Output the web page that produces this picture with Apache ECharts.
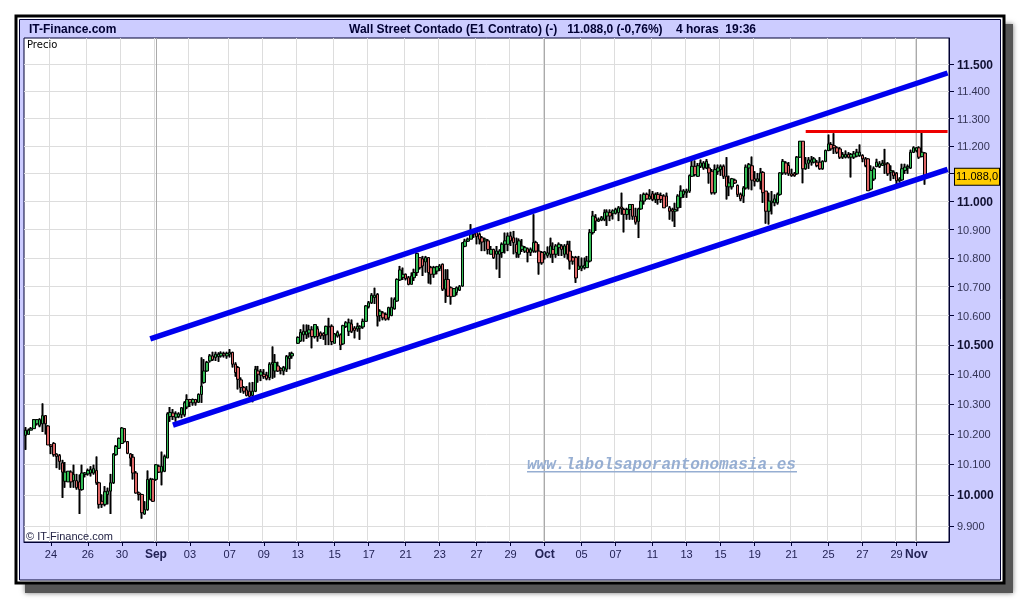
<!DOCTYPE html>
<html>
<head>
<meta charset="utf-8">
<style>html,body{margin:0;padding:0;background:#fff}#c{width:1020px;height:600px}</style>
<script src="https://cdn.jsdelivr.net/npm/echarts@6/dist/echarts.min.js"></script>
</head>
<body>
<div id="c"></div>
<script>
// Candles: [open, close, low, high]
const barsAugust = [
[10196,10213,10148,10223],[10199,10213,10199,10218],[10213,10218,10213,10223],[10218,10248,10218,10250],[10234,10248,10229,10250],[10229,10248,10223,10252],[10234,10261,10207,10302],[10261,10234,10199,10263],[10227,10164,10164,10229],[10164,10159,10134,10166],
[10169,10132,10126,10173],[10134,10126,10088,10136],[10129,10110,10083,10134],[10105,10075,9991,10115],[10045,10075,10024,10108],[10043,10078,10043,10078],[10075,10043,10024,10080],[10047,10067,10024,10099],[10047,10024,10018,10069],[10043,10018,9939,10067],
[10018,10072,10015,10099],[10067,10072,10058,10075],[10069,10080,10064,10086],[10072,10083,10061,10094],[10072,10086,10067,10099],[10080,10040,10034,10126],[10040,9970,9957,10043],[9980,9970,9959,10002],[9970,10011,9964,10029],[10002,10013,9970,10024],
[10013,10040,9939,10069],[10040,10134,10037,10137],[10132,10159,10129,10164],[10153,10186,10151,10188],[10169,10220,10169,10223],[10218,10175,10173,10220],[10175,10137,10134,10177],[10134,10121,10094,10137],[10124,10072,10051,10134],[10072,10007,10005,10078],
[10007,10002,9983,10011],[10002,9943,9924,10004],[9939,9953,9937,9980],[9953,10051,9950,10080],[9986,10051,9983,10056],[10051,9980,9978,10054]
];
const barsSeptember = [
[10051,10099,10047,10101],[10094,10075,10072,10099],[10075,10094,10032,10142],[10078,10126,10075,10132],[10121,10267,10121,10272],
[10258,10272,10241,10290],[10270,10258,10247,10283],[10256,10267,10241,10275],[10258,10267,10253,10272],[10264,10287,10253,10290],[10264,10304,10258,10309],[10290,10315,10283,10332],[10315,10306,10290,10317],[10304,10315,10295,10318],[10315,10304,10295,10317],
[10306,10332,10304,10335],[10332,10360,10304,10457],[10372,10411,10369,10451],[10411,10440,10409,10445],[10445,10462,10440,10468],[10462,10449,10445,10476],[10457,10468,10445,10476],[10460,10468,10442,10474],[10462,10471,10457,10477],[10470,10465,10457,10476],
[10462,10470,10453,10476],[10468,10474,10457,10485],[10474,10434,10423,10476],[10434,10406,10392,10440],[10423,10383,10349,10428],[10381,10355,10338,10389],[10355,10343,10335,10360],[10347,10329,10326,10360],[10343,10326,10324,10372],[10329,10343,10306,10374],
[10343,10417,10340,10428],[10411,10400,10372,10428],[10397,10408,10377,10417],[10400,10392,10385,10417],[10397,10385,10380,10408],[10389,10434,10380,10440],[10434,10440,10385,10494],[10411,10440,10389,10468],[10428,10411,10408,10442],[10419,10414,10400,10423],
[10411,10423,10397,10428],[10417,10460,10408,10465],[10453,10462,10417,10474],[10462,10470,10453,10476],'-',
[10505,10525,10503,10528],[10513,10542,10510,10553],[10534,10546,10511,10569],[10534,10546,10520,10569],[10540,10551,10525,10568],[10551,10528,10488,10563],[10528,10569,10522,10570],[10554,10528,10511,10563],[10540,10530,10520,10545],[10538,10531,10517,10542],
[10534,10563,10499,10565],[10563,10561,10499,10592],[10563,10511,10499,10569],[10505,10537,10505,10540],[10530,10542,10525,10548],[10534,10499,10482,10538],[10503,10565,10500,10568],[10563,10575,10558,10580],[10546,10575,10530,10589],[10571,10546,10540,10586],
[10557,10549,10522,10563],[10554,10563,10545,10575],[10557,10563,10517,10566],[10561,10580,10555,10589],[10580,10633,10580,10636],[10630,10644,10625,10650],[10644,10670,10640,10677],[10662,10670,10640,10696],[10673,10598,10563,10677],[10600,10615,10580,10621],
[10609,10592,10584,10615],[10603,10588,10583,10610],[10592,10627,10584,10630],[10600,10629,10598,10662],[10623,10656,10621,10662],[10650,10725,10648,10728],[10723,10758,10720,10772],[10732,10743,10723,10766],[10743,10728,10722,10745],[10731,10708,10705,10737],
[10708,10737,10708,10749],[10731,10749,10720,10762],[10749,10816,10737,10818],[10801,10766,10760,10801],[10797,10772,10737,10807],[10786,10801,10749,10807],[10801,10749,10711,10803],[10766,10743,10708,10772],[10743,10766,10731,10772],[10754,10769,10743,10772],
[10763,10772,10754,10778],[10778,10691,10685,10780],[10691,10725,10644,10760],[10725,10667,10665,10760],[10696,10665,10638,10700],[10667,10693,10665,10695],[10680,10696,10670,10700],[10688,10700,10685,10705],[10702,10853,10700,10855],[10841,10859,10838,10867],
[10859,10866,10856,10871],[10866,10895,10866,10919],[10895,10883,10871,10901],[10889,10875,10848,10892],[10883,10866,10848,10889],[10871,10856,10824,10877],[10860,10866,10824,10871],[10860,10830,10813,10866],[10813,10830,10813,10842],[10830,10801,10797,10832],
[10813,10824,10760,10842],[10813,10824,10730,10830],[10819,10848,10801,10854],[10848,10860,10816,10889],[10848,10877,10824,10889],[10877,10860,10842,10892],[10871,10854,10813,10895],[10848,10819,10801,10871],[10813,10860,10801,10868],[10830,10842,10821,10866],
[10824,10836,10818,10842],[10832,10819,10785,10836],[10819,10830,10807,10836],[10824,10854,10819,10954],[10854,10824,10819,10860]
];
const barsOctober = [
[10824,10783,10742,10848],[10819,10783,10777,10824],[10813,10821,10795,10824],[10809,10818,10801,10840],[10813,10842,10801,10871],[10830,10813,10783,10854],[10813,10842,10801,10848],[10836,10848,10807,10854],[10842,10830,10807,10848],[10813,10842,10801,10848],
[10848,10813,10795,10860],[10824,10789,10760,10860],[10801,10789,10777,10807],[10801,10730,10713,10807],[10760,10772,10760,10807],[10764,10772,10754,10801],[10766,10774,10760,10801],[10766,10789,10766,10807],[10789,10889,10785,10901],[10889,10948,10883,10966],
[10942,10930,10895,10954],[10930,10936,10927,10942],[10934,10942,10930,10948],[10936,10960,10930,10971],[10948,10962,10913,10971],[10960,10948,10930,10971],[10958,10966,10936,10971],[10958,10971,10954,10977],[10960,10977,10930,10983],[10980,10974,10953,11031],
[10971,10954,10890,10977],[10953,10971,10935,10977],[10971,10989,10935,10989],[10989,10947,10935,10989],[10947,10926,10918,10977],[10929,10973,10870,10977],[10973,11001,10971,11025],[11001,11025,10989,11031],[11025,11009,11007,11031],[11009,11019,11007,11043],
[11027,11007,11001,11037],[11007,11025,10995,11031],[11025,11007,10989,11033],[11021,11007,10995,11031],[11019,10977,10977,11025],[11019,10983,10983,11031],[10977,10965,10935,10983],[10971,10965,10929,10977],[10965,10971,10909,10995],[10977,11019,10965,11025],
[11013,11037,10977,11057],[11025,11037,11013,11043],[11031,11037,11013,11045],[11037,11092,11031,11096],[11090,11126,11088,11150],[11126,11096,11090,11147],[11090,11128,11088,11138],[11126,11138,11120,11150],[11120,11138,11114,11144],[11120,11144,11116,11152],
[11120,11102,11064,11135],[11108,11031,11025,11116],[11031,11114,11025,11132],[11108,11120,11096,11132],[11114,11126,11092,11132],[11126,11090,11081,11132],[11090,11054,11007,11159],[11052,11066,11019,11092],[11052,11081,11043,11084],[11076,11066,11063,11081],
[11057,11025,11016,11060],[11025,11009,11001,11031],[11019,11048,10995,11054],[11048,11123,11043,11132],[11120,11132,11043,11138],[11128,11076,11040,11161],[11081,11072,11054,11108],[11072,11081,11069,11102],[11072,11102,11043,11120],[11104,11031,10995,11108],
[11037,10965,10921,11037],[10965,11001,10918,11031],[10995,11001,10954,11037],[10995,11009,10983,11025],[10995,11025,10989,11031],[11025,11102,11021,11104],[11102,11144,11096,11152],[11138,11102,11096,11144],
[11129,11099,11092,11141],[11099,11092,11089,11117],[11099,11092,11089,11105],[11099,11159,11096,11163],[11159,11217,11157,11217],[11217,11117,11065,11217],[11117,11135,11114,11159],[11137,11149,11117,11159],[11141,11149,11129,11163],[11141,11153,11137,11159],
[11141,11129,11123,11149],[11141,11117,11114,11159],[11117,11144,11114,11147],[11144,11183,11141,11186],[11183,11207,11181,11241],[11205,11189,11183,11213],[11201,11193,11171,11246],[11193,11177,11171,11198],[11189,11159,11153,11195],[11159,11169,11153,11177],
[11159,11169,11155,11183],[11169,11159,11155,11177],[11159,11169,11086,11174],[11159,11171,11153,11181],[11163,11177,11159,11189],[11165,11177,11161,11205],[11165,11153,11141,11169],[11153,11129,11123,11159],[11153,11038,11038,11155],[11044,11111,11040,11129],
[11080,11117,11074,11125],[11125,11141,11123,11153],[11125,11135,11120,11144],[11129,11137,11129,11149]
];
const barsNovember = [
[11137,11132,11099,11189],[11135,11099,11092,11141],[11105,11111,11074,11129],[11105,11092,11080,11111],[11101,11074,11062,11105],[11074,11080,11068,11086],[11077,11117,11074,11135],[11111,11123,11099,11135],[11120,11125,11099,11132],[11120,11177,11117,11186],
[11177,11193,11174,11198],[11183,11193,11177,11195],[11193,11159,11153,11198],[11161,11177,11159,11250],[11174,11088,11060,11177]
];
const slotCount = 326;
const tickSlots  = [9,22,34,46,58,72,84,96,109,121,134,146,159,171,183,196,208,221,233,245,257,270,283,295,307,314];
const tickLabels = ['24','26','30','Sep','03','07','09','13','15','17','21','23','27','29','Oct','05','07','11','13','15','19','21','25','27','29','Nov'];
const monthLabels = ['Sep','Oct','Nov'];
const priceTicks = [9900,10000,10100,10200,10300,10400,10500,10600,10700,10800,10900,11000,11100,11200,11300,11400,11500];
const upperChannel = [[44,10520],[325,11468]];
const lowerChannel = [[52,10230],[325,11115]];
const resistance = [[275,11252],[325,11252]];
const lastPrice = 11088;

const candles = [...barsAugust, ...barsSeptember, ...barsOctober, ...barsNovember];
const categories = Array.from({length: slotCount}, (_, i) => String(i));
const isTick = (i) => tickSlots.includes(i);
const fmtPrice = (v) => { const s = String(Math.round(v)); return s.length > 3 ? s.slice(0, -3) + '.' + s.slice(-3) : s; };
const navy = '#000033';
const FONT = '"Liberation Sans", Arial, sans-serif';

const chart = echarts.init(document.getElementById('c'), null, {renderer: 'canvas'});
chart.setOption({
  animation: false,
  backgroundColor: '#fff',
  graphic: [
    {type:'rect', z:-30, shape:{x:25,y:24,width:988,height:569}, style:{fill:'#555', shadowBlur:5, shadowColor:'#777'}},
    {type:'rect', z:-20, shape:{x:16,y:16,width:988,height:567}, style:{fill:'#fff', stroke:'#000', lineWidth:3}},
    {type:'rect', z:-10, shape:{x:19.5,y:19.5,width:981,height:560.5}, style:{fill:'#ccccff', stroke:navy, lineWidth:1}},
    {type:'text', z:10, x:29, y:24, style:{text:'IT-Finance.com', font:'bold 12px '+FONT, fill:navy}},
    {type:'text', z:10, x:349, y:24, style:{text:'Wall Street Contado (E1 Contrato) (-)   11.088,0 (-0,76%)    4 horas  19:36', font:'bold 12px '+FONT, fill:navy}},
    {type:'text', z:10, x:27, y:40, style:{text:'Precio', font:'10px "DejaVu Sans", sans-serif', fill:'#000'}},
    {type:'text', z:10, x:26, y:531, style:{text:'\u00a9 IT-Finance.com', font:'11px '+FONT, fill:'#222244'}},
    {type:'text', z:10, x:527, y:457, style:{text:'www.labolsaporantonomasia.es', font:'italic bold 16px "Liberation Mono", monospace', fill:'#96aed2'}},
    {type:'rect', z:10, shape:{x:527,y:471,width:270,height:1.5}, style:{fill:'#96aed2'}}
  ],
  grid: {left:24, right:71, top:38, bottom:58, show:true, backgroundColor:'#fff', borderColor:navy, borderWidth:1},
  xAxis: {
    type:'category', data:categories, boundaryGap:true,
    axisLine:{show:true, lineStyle:{color:navy}},
    axisTick:{show:true, alignWithLabel:true, length:4, interval:(i)=>isTick(i), lineStyle:{color:navy}},
    splitLine:{show:true, interval:(i)=>isTick(i), lineStyle:{color:'#dddddd', width:1}},
    axisLabel:{
      show:true, interval:(i)=>isTick(i), margin:7, color:'#222255', fontFamily:FONT, fontSize:11, hideOverlap:false,
      formatter:(v)=>{ const k = tickSlots.indexOf(Number(v)); if (k<0) return ''; const t = tickLabels[k]; return monthLabels.includes(t) ? '{m|'+t+'}' : t; },
      rich:{m:{fontWeight:'bold', fontSize:12, color:'#222255', fontFamily:FONT}}
    }
  },
  yAxis: {
    type:'log', position:'right', min:9849, max:11599, logBase:10,
    axisLine:{show:true, lineStyle:{color:navy}},
    axisTick:{show:true, length:5, customValues:priceTicks, lineStyle:{color:navy}},
    splitLine:{show:true, lineStyle:{color:'#dddddd', width:1}},
    minorSplitLine:{show:false},
    axisLabel:{
      show:true, customValues:priceTicks, margin:8, color:'#333355', fontFamily:FONT, fontSize:11, padding:[2,0,0,0],
      formatter:(v)=>{ const r = Math.round(v); return r%500===0 ? '{b|'+fmtPrice(r)+'}' : fmtPrice(r); },
      rich:{b:{fontWeight:'bold', fontSize:12, color:'#111133', fontFamily:FONT}}
    }
  },
  series: [
    {name:'Mechas', type:'candlestick', data:candles, barWidth:1, z:3, silent:true,
     itemStyle:{color:'#000', color0:'#000', borderColor:'#000', borderColor0:'#000', borderWidth:2}},
    {name:'Precio', type:'candlestick', data:candles, barWidth:3, z:4, silent:true,
     itemStyle:{color:'#33bb55', color0:'#dd6666', borderColor:'#000', borderColor0:'#000', borderWidth:1}},
    {name:'Canal superior', type:'line', data:upperChannel, showSymbol:false, z:5, silent:true, lineStyle:{color:'#0000ee', width:5.5},
     markLine:{silent:true, symbol:'none', z:1, label:{show:false},
       lineStyle:{color:'#aaaaaa', width:1, type:'solid'},
       data: monthLabels.map(m => ({xAxis: tickSlots[tickLabels.indexOf(m)]}))}},
    {name:'Canal inferior', type:'line', data:lowerChannel, showSymbol:false, z:5, silent:true, lineStyle:{color:'#0000ee', width:5.5}},
    {name:'Resistencia', type:'line', data:resistance, showSymbol:false, z:5, silent:true, lineStyle:{color:'#ee0000', width:3},
     markLine:{silent:true, symbol:'none', z:6, animation:false,
       data:[{yAxis:lastPrice,
         lineStyle:{color:'rgba(0,0,0,0)', width:1, type:'solid'},
         label:{show:true, position:'end', distance:6, formatter:'11.088,0', color:'#000', fontFamily:FONT, fontSize:11,
              backgroundColor:'#ffcc00', borderColor:'#000', borderWidth:1, padding:[3,1,2,1]}}]}}
  ]
});
</script>
</body>
</html>
